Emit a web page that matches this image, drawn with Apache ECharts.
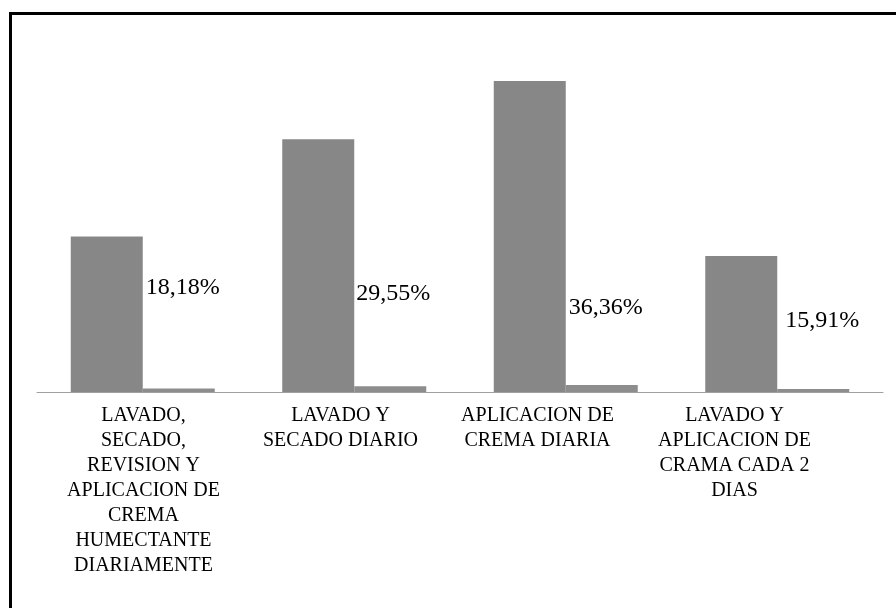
<!DOCTYPE html>
<html>
<head>
<meta charset="utf-8">
<script src="https://cdn.jsdelivr.net/npm/echarts@6/dist/echarts.min.js"></script>
<style>
  html, body { margin: 0; padding: 0; background: #fff; }
  #chart { width: 896px; height: 608px; }
</style>
</head>
<body>
<div id="chart"></div>
<script>
var categories = [
    'LAVADO,\nSECADO,\nREVISION Y\nAPLICACION DE\nCREMA\nHUMECTANTE\nDIARIAMENTE',
    'LAVADO Y\nSECADO DIARIO',
    'APLICACION DE\nCREMA DIARIA',
    'LAVADO Y\nAPLICACION DE\nCRAMA CADA 2\nDIAS'
];
var counts = [8, 13, 16, 7];
var percents = [0.1818, 0.2955, 0.3636, 0.1591];
var percentLabels = ['18,18%', '29,55%', '36,36%', '15,91%'];

// where each percent label sits relative to its little bar
var labelPos = [[3, -101], [2, -93], [3, -77], [8, -68]];

var serif = 'Liberation Serif';

var dom = document.getElementById('chart');
var myChart = echarts.init(dom);

var pctData = percents.map(function (v, i) {
    return {
        value: v,
        label: { position: labelPos[i] }
    };
});

var option = {
    backgroundColor: '#fff',
    animation: false,
    textStyle: { fontFamily: serif },
    graphic: [{
        type: 'rect',
        shape: { x: 10.5, y: 13.5, width: 950, height: 700 },
        style: { fill: 'none', stroke: '#000', lineWidth: 3 }
    }],
    grid: [
        { left: 37, right: 13, top: 42, bottom: 216 },
        // labels in the original sit a little tighter than the bars
        { left: 45, right: 63, top: 42, bottom: 216 }
    ],
    xAxis: [
        {
            type: 'category',
            gridIndex: 0,
            data: categories,
            axisLine: { lineStyle: { color: '#a0a0a0', width: 1 } },
            axisTick: { show: false },
            axisLabel: { show: false }
        },
        {
            type: 'category',
            gridIndex: 1,
            data: categories,
            axisLine: { show: false },
            axisTick: { show: false },
            axisLabel: {
                interval: 0,
                margin: 11,
                color: '#000',
                align: 'center',
                fontFamily: 'serif',
                fontSize: 20,
                lineHeight: 25
            }
        }
    ],
    yAxis: [
        { type: 'value', gridIndex: 0, min: 0, max: 18, show: false },
        { type: 'value', gridIndex: 1, min: 0, max: 18, show: false }
    ],
    series: [
        {
            name: 'Frecuencia',
            type: 'bar',
            data: counts,
            barWidth: 72,
            barGap: '0%',
            itemStyle: { color: '#878787' }
        },
        {
            name: 'Porcentaje',
            type: 'bar',
            data: pctData,
            barWidth: 72,
            itemStyle: { color: '#8d8d8d' },
            label: {
                show: true,
                align: 'left',
                verticalAlign: 'middle',
                color: '#000',
                fontFamily: serif,
                fontSize: 24,
                formatter: function (p) {
                    return percentLabels[p.dataIndex];
                }
            }
        }
    ]
};
myChart.setOption(option, true);
</script>
</body>
</html>
